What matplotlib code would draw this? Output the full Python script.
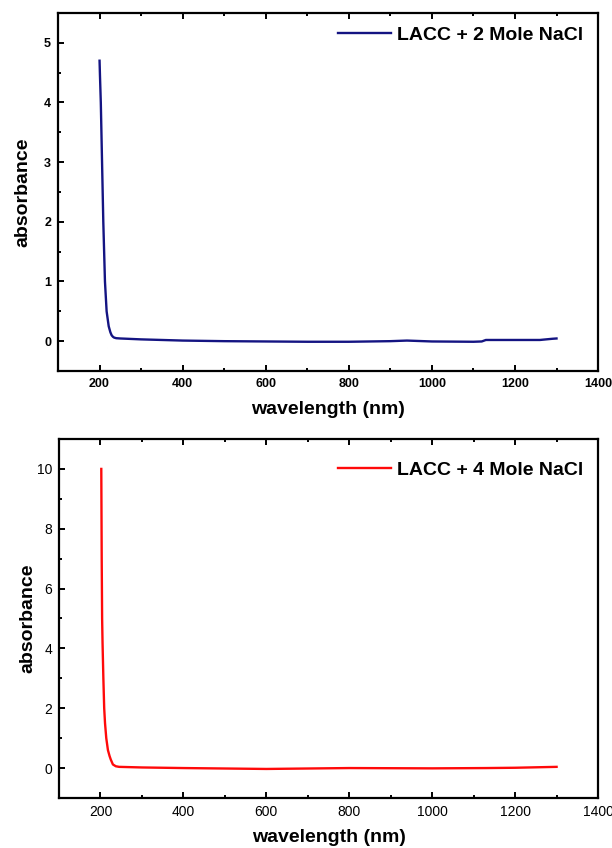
import matplotlib
matplotlib.use("Agg")
import matplotlib.pyplot as plt
from matplotlib.ticker import MultipleLocator

plt.rcParams['font.family'] = ['Liberation Sans', 'DejaVu Sans']

# Top panel: LACC + 2 Mole NaCl
wl_2 = [200, 201, 203, 206, 209, 213, 217, 222, 226, 229, 232, 235, 240, 250, 300, 400, 500,
        600, 700, 800, 900, 940, 1000, 1100, 1120, 1130, 1200, 1260, 1290, 1300]
abs_2 = [4.70, 4.45, 4.00, 3.00, 2.00, 1.00, 0.50, 0.25, 0.15, 0.10, 0.075, 0.06, 0.05, 0.045, 0.03, 0.01, 0.0,
         -0.005, -0.01, -0.01, 0.0, 0.01, -0.005, -0.01, -0.005, 0.02, 0.02, 0.02, 0.04, 0.045]

# Bottom panel: LACC + 4 Mole NaCl
wl_4 = [202, 203, 204, 205, 207, 209, 211, 214, 218, 222, 225, 230, 237, 245, 300, 400,
        600, 800, 1000, 1130, 1200, 1300]
abs_4 = [10.0, 7.0, 5.0, 4.2, 3.0, 2.0, 1.5, 1.0, 0.6, 0.4, 0.28, 0.12, 0.06, 0.04, 0.02, 0.0,
         -0.03, 0.0, -0.01, 0.0, 0.01, 0.04]

label_2 = "LACC + 2 Mole NaCl"
label_4 = "LACC + 4 Mole NaCl"
xlabel = "wavelength (nm)"
ylabel = "absorbance"

fig = plt.figure(figsize=(6.12, 8.48), dpi=100)
ax1 = fig.add_axes([0.0948, 0.5625, 0.8824, 0.4222])
ax2 = fig.add_axes([0.0964, 0.0590, 0.8808, 0.4233])


def style(ax, bold_ticks, fs, xpad):
    for s in ax.spines.values():
        s.set_linewidth(1.6)
    ax.xaxis.set_major_locator(MultipleLocator(200))
    ax.xaxis.set_minor_locator(MultipleLocator(100))
    ax.tick_params(which='both', direction='in', top=True, right=False, width=1.4)
    ax.tick_params(which='major', length=4, pad=5, labelsize=fs)
    ax.tick_params(which='minor', length=2.5)
    for lab in ax.get_xticklabels() + ax.get_yticklabels():
        lab.set_fontweight('bold' if bold_ticks else 'normal')
    ax.set_xlabel(xlabel, fontsize=14, fontweight='bold', labelpad=xpad)
    ax.set_ylabel(ylabel, fontsize=14, fontweight='bold')


ax1.plot(wl_2, abs_2, color='#141482', lw=1.7, label=label_2)
ax1.set_xlim(100, 1400)
ax1.set_ylim(-0.5, 5.5)
ax1.yaxis.set_major_locator(MultipleLocator(1))
ax1.yaxis.set_minor_locator(MultipleLocator(0.5))
style(ax1, True, 9, 8)
ax1.yaxis.set_label_coords(-0.05, 0.5)
ax1.legend(loc='upper right', frameon=False, handlelength=2.7,
           handletextpad=0.3, borderaxespad=0.3, bbox_to_anchor=(0.997, 1.0),
           prop={'weight': 'bold', 'size': 14})

ax2.plot(wl_4, abs_4, color='#ff0a0a', lw=1.7, label=label_4)
ax2.set_xlim(100, 1400)
ax2.set_ylim(-1, 11)
ax2.yaxis.set_major_locator(MultipleLocator(2))
ax2.yaxis.set_minor_locator(MultipleLocator(1))
style(ax2, False, 10, 7)
ax2.yaxis.set_label_coords(-0.042, 0.5)
ax2.legend(loc='upper right', frameon=False, handlelength=2.7,
           handletextpad=0.3, borderaxespad=0.3, bbox_to_anchor=(0.997, 0.975),
           prop={'weight': 'bold', 'size': 14})

fig.savefig("out.png", dpi=100)
